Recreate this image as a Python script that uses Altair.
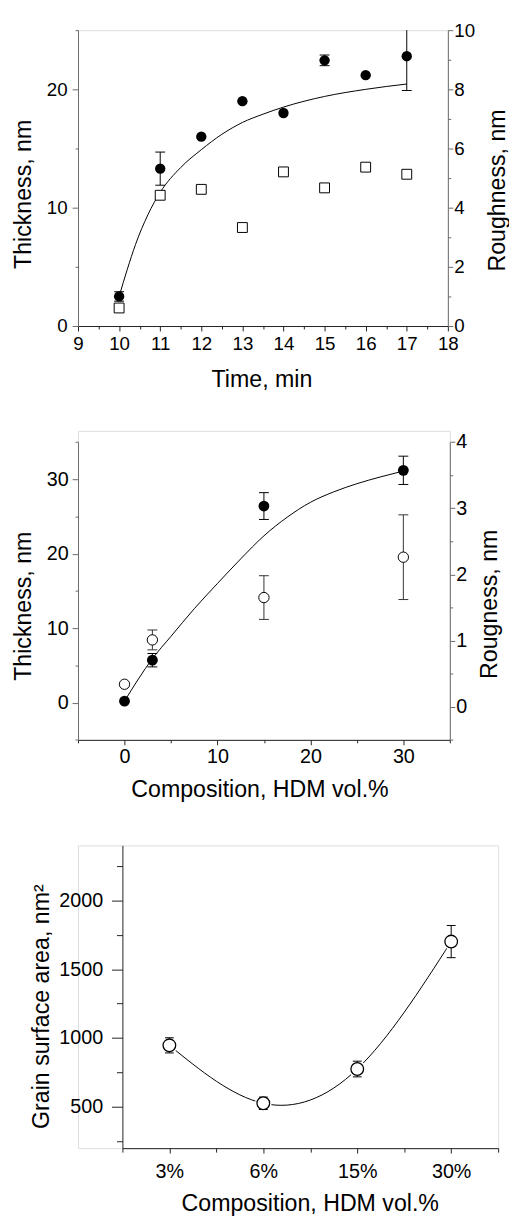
import altair as alt
import pandas as pd

FONT = "Liberation Sans"
TICK_FS = 19
TITLE_FS = 23.5

# ---------------- Panel 1 data ----------------
time_min = [10, 11, 12, 13, 14, 15, 16, 17]
thickness_1 = [2.5, 13.3, 16.0, 19.0, 18.0, 22.45, 21.2, 22.8]
thickness_1_err = [0.4, 1.4, 0.0, 0.0, 0.0, 0.45, 0.0, 2.9]
roughness_1 = [0.61, 4.42, 4.62, 3.33, 5.21, 4.67, 5.37, 5.13]
fit1_t = [10, 10.2, 10.4, 10.7, 11, 11.5, 12, 12.5, 13, 13.5, 14, 15, 16, 17]
fit1_y = [2.5, 4.8, 6.9, 9.4, 11.3, 13.4, 14.9, 16.2, 17.2, 17.9, 18.5, 19.4, 20.0, 20.45]

# ---------------- Panel 2 data ----------------
comp_2 = [0, 3, 15, 30]
thickness_2 = [0.2, 5.7, 26.4, 31.2]
thickness_2_err = [0.0, 0.9, 1.8, 1.9]
roughness_2 = [0.34, 1.01, 1.65, 2.26]
roughness_2_err = [0.0, 0.15, 0.33, 0.64]
fit2_x = [0, 3, 5, 7.5, 10, 12.5, 15, 17.5, 20, 22.5, 25, 27.5, 30]
fit2_y = [0.2, 5.9, 8.9, 12.6, 16.0, 19.3, 22.4, 24.9, 26.9, 28.3, 29.4, 30.3, 31.1]

# ---------------- Panel 3 data ----------------
categories_3 = ["3%", "6%", "15%", "30%"]
grain_area = [947, 526, 775, 1701]
grain_area_err = [55, 45, 57, 117]

# ticks
p1_x_ticks = [9 + 0.5 * i for i in range(19)]
p1_yl_ticks = [0, 5, 10, 15, 20, 25]
p1_yr_ticks = list(range(0, 11))
p2_x_ticks = [-5, 0, 5, 10, 15, 20, 25, 30, 35]
p2_yl_ticks = [-5, 0, 5, 10, 15, 20, 25, 30, 35]
p2_yr_ticks = [-0.5, 0, 0.5, 1, 1.5, 2, 2.5, 3, 3.5, 4]
p3_x_ticks = [-0.5, 0, 0.5, 1, 1.5, 2, 2.5, 3, 3.5]
p3_y_ticks = [250, 500, 750, 1000, 1250, 1500, 1750, 2000, 2250]

DARK = "#222222"
GREY = "#6a6a6a"


def make_axis(values, test, major, minor, title, orient, label_expr=None,
              fs=TICK_FS, label_padding=4, domain_color=DARK, **kw):
    if label_expr is None:
        label_expr = f"({test}) ? format(datum.value, 'd') : ''"
    return alt.Axis(
        values=values,
        labelExpr=label_expr,
        tickSize={"condition": {"test": test, "value": major}, "value": minor},
        title=title,
        orient=orient,
        grid=False,
        labelFont=FONT,
        labelFontSize=fs,
        labelColor="black",
        labelPadding=label_padding,
        labelFlush=False,
        labelOverlap=False,
        titleFont=FONT,
        titleFontSize=TITLE_FS,
        titleFontWeight="normal",
        titleColor="black",
        titleAlign="center",
        titleBaseline="alphabetic",
        domainColor=domain_color,
        domainWidth=1,
        tickColor=domain_color,
        tickWidth=1,
        **kw,
    )


# =============== Panel 1 ===============
W1, H1 = 375, 300
df1 = pd.DataFrame({"t": time_min, "y": thickness_1, "err": thickness_1_err, "r": roughness_1})
dfit1 = pd.DataFrame({"t": fit1_t, "y": fit1_y})

x1 = alt.X("t:Q", scale=alt.Scale(domain=[9, 18], nice=False, zero=False),
           axis=make_axis(p1_x_ticks, "datum.value % 1 == 0", 5, 3, "Time, min", "bottom",
                          label_padding=4, titleX=186, titleY=61.5))
y1_axis = make_axis(p1_yl_ticks, "datum.value % 10 == 0", 6, 3, "Thickness, nm", "left",
                    label_padding=5, domain_color=GREY, titleAngle=270, titleX=-48, titleY=166)
y1_scale = alt.Scale(domain=[0, 25], nice=False, zero=False)

base1 = alt.Chart(df1)
fit_line1 = alt.Chart(dfit1).mark_line(color="black", strokeWidth=1, interpolate="monotone").encode(
    x=x1, y=alt.Y("y:Q", scale=y1_scale, axis=y1_axis))
err1 = base1.transform_filter("datum.err > 0").transform_calculate(
    lo="datum.y - datum.err", hi="min(datum.y + datum.err, 25)")
rule1 = err1.mark_rule(color="black", strokeWidth=1).encode(
    x=x1, y=alt.Y("lo:Q", scale=y1_scale, axis=y1_axis), y2="hi:Q")
caplo1 = err1.mark_tick(color="black", orient="horizontal", size=10, thickness=1, opacity=1).encode(
    x=x1, y=alt.Y("lo:Q", scale=y1_scale, axis=y1_axis))
caphi1 = err1.transform_filter("datum.hi < 25").mark_tick(
    color="black", orient="horizontal", size=10, thickness=1, opacity=1).encode(
    x=x1, y=alt.Y("hi:Q", scale=y1_scale, axis=y1_axis))
pts1 = base1.mark_circle(color="black", size=110, opacity=1).encode(
    x=x1, y=alt.Y("y:Q", scale=y1_scale, axis=y1_axis))
thick1 = alt.layer(fit_line1, rule1, caplo1, caphi1, pts1)

sq1 = base1.mark_point(shape="square", filled=True, fill="white", stroke="black",
                       strokeWidth=1, size=100, opacity=1).encode(
    x=x1,
    y=alt.Y("r:Q", scale=alt.Scale(domain=[0, 10], nice=False, zero=False),
            axis=make_axis(p1_yr_ticks, "datum.value % 2 == 0", 5, 3, "Roughness, nm", "right",
                           label_padding=1, domain_color=GREY, titleAngle=270, titleX=57, titleY=162)))

panel1 = alt.layer(thick1, sq1).resolve_scale(y="independent").properties(width=W1, height=H1)

# =============== Panel 2 ===============
# the group is 11.3 px taller than its plot area, the plot area starts 11.3 px below the group top
W2, H2, OFF2 = 377, 313.3, 11.3
df2 = pd.DataFrame({"c": comp_2, "y": thickness_2, "err": thickness_2_err,
                    "r": roughness_2, "rerr": roughness_2_err})
dfit2 = pd.DataFrame({"c": fit2_x, "y": fit2_y})

x2 = alt.X("c:Q", scale=alt.Scale(domain=[-5, 35], nice=False, zero=False),
           axis=make_axis(p2_x_ticks, "datum.value % 10 == 0", 5, 3, "Composition, HDM vol.%", "bottom",
                          fs=20, label_padding=2, titleX=184, titleY=57))
y2_axis = make_axis(p2_yl_ticks, "datum.value % 10 == 0", 6, 3, "Thickness, nm", "left",
                    fs=20, label_padding=4, domain_color=GREY, titleAngle=270, titleX=-48,
                    titleY=166 + OFF2)
y2_scale = alt.Scale(domain=[-5, 35], nice=False, zero=False, range=[H2, OFF2])
yr2_axis = make_axis(p2_yr_ticks, "datum.value % 1 == 0", 5, 3, "Rougness, nm", "right",
                     fs=20, label_padding=1, domain_color=GREY, titleAngle=270, titleX=47,
                     titleY=164 + OFF2)
yr2_scale = alt.Scale(domain=[-0.5, 4], nice=False, zero=False, range=[H2, OFF2])

base2 = alt.Chart(df2)
fit_line2 = alt.Chart(dfit2).mark_line(color="black", strokeWidth=1, interpolate="monotone").encode(
    x=x2, y=alt.Y("y:Q", scale=y2_scale, axis=y2_axis))
err2 = base2.transform_filter("datum.err > 0").transform_calculate(
    lo="datum.y - datum.err", hi="datum.y + datum.err")
rule2 = err2.mark_rule(color="black", strokeWidth=1).encode(
    x=x2, y=alt.Y("lo:Q", scale=y2_scale, axis=y2_axis), y2="hi:Q")
caplo2 = err2.mark_tick(color="black", orient="horizontal", size=10, thickness=1, opacity=1).encode(
    x=x2, y=alt.Y("lo:Q", scale=y2_scale, axis=y2_axis))
caphi2 = err2.mark_tick(color="black", orient="horizontal", size=10, thickness=1, opacity=1).encode(
    x=x2, y=alt.Y("hi:Q", scale=y2_scale, axis=y2_axis))
pts2 = base2.mark_circle(color="black", size=120, opacity=1).encode(
    x=x2, y=alt.Y("y:Q", scale=y2_scale, axis=y2_axis))
thick2 = alt.layer(fit_line2, rule2, caplo2, caphi2, pts2)

rerr2 = base2.transform_filter("datum.rerr > 0").transform_calculate(
    lo="datum.r - datum.rerr", hi="datum.r + datum.rerr")
rrule2 = rerr2.mark_rule(color="#333333", strokeWidth=1).encode(
    x=x2, y=alt.Y("lo:Q", scale=yr2_scale, axis=yr2_axis), y2="hi:Q")
rcaplo2 = rerr2.mark_tick(color="#333333", orient="horizontal", size=10, thickness=1, opacity=1).encode(
    x=x2, y=alt.Y("lo:Q", scale=yr2_scale, axis=yr2_axis))
rcaphi2 = rerr2.mark_tick(color="#333333", orient="horizontal", size=10, thickness=1, opacity=1).encode(
    x=x2, y=alt.Y("hi:Q", scale=yr2_scale, axis=yr2_axis))
rpts2 = base2.mark_point(shape="circle", filled=True, fill="white", stroke="black",
                         strokeWidth=1, size=110, opacity=1).encode(
    x=x2, y=alt.Y("r:Q", scale=yr2_scale, axis=yr2_axis))
rough2 = alt.layer(rrule2, rcaplo2, rcaphi2, rpts2)

panel2 = alt.layer(thick2, rough2).resolve_scale(y="independent").properties(width=W2, height=H2)

# =============== Panel 3 ===============
# the plot area is shifted 45 px right inside its group
W3, H3, OFF3 = 426, 307, 45
df3 = pd.DataFrame({"i": list(range(len(categories_3))), "a": grain_area, "err": grain_area_err})
cat_js = "[" + ",".join(f"'{c}'" for c in categories_3) + "]"

x3 = alt.X("i:Q", scale=alt.Scale(domain=[-0.5, len(categories_3) - 0.5], nice=False, zero=False,
                                  range=[OFF3, W3]),
           axis=make_axis(p3_x_ticks, "datum.value % 1 == 0", 5, 4, "Composition, HDM vol.%", "bottom",
                          label_expr=f"datum.value % 1 == 0 ? {cat_js}[datum.value] : ''",
                          fs=20, label_padding=9, titleX=190 + OFF3, titleY=63))
y3_axis = make_axis(p3_y_ticks, "datum.value % 500 == 0", 11, 6, "Grain surface area, nm²", "left",
                    fs=20, label_padding=9, titleAngle=270, titleX=-75, titleY=163, offset=-OFF3)
y3_scale = alt.Scale(domain=[200, 2400], nice=False, zero=False)

base3 = alt.Chart(df3)
line3 = base3.mark_line(color="black", strokeWidth=1, interpolate="natural").encode(
    x=x3, y=alt.Y("a:Q", scale=y3_scale, axis=y3_axis))
halo3 = base3.mark_point(shape="circle", filled=True, color="white", size=290, opacity=1).encode(
    x=x3, y=alt.Y("a:Q", scale=y3_scale, axis=y3_axis))
err3 = base3.transform_calculate(lo="datum.a - datum.err", hi="datum.a + datum.err")
rule3 = err3.mark_rule(color="black", strokeWidth=1).encode(
    x=x3, y=alt.Y("lo:Q", scale=y3_scale, axis=y3_axis), y2="hi:Q")
caplo3 = err3.mark_tick(color="black", orient="horizontal", size=9, thickness=1, opacity=1).encode(
    x=x3, y=alt.Y("lo:Q", scale=y3_scale, axis=y3_axis))
caphi3 = err3.mark_tick(color="black", orient="horizontal", size=9, thickness=1, opacity=1).encode(
    x=x3, y=alt.Y("hi:Q", scale=y3_scale, axis=y3_axis))
pts3 = base3.mark_point(shape="circle", filled=True, fill="white", stroke="black",
                        strokeWidth=1.3, size=165, opacity=1).encode(
    x=x3, y=alt.Y("a:Q", scale=y3_scale, axis=y3_axis))
panel3 = alt.layer(line3, halo3, rule3, caplo3, caphi3, pts3).properties(width=W3, height=H3)

chart = alt.vconcat(panel1, panel2, panel3, spacing=106.3, bounds="flush").properties(
    padding={"left": 3, "top": 4, "right": 0, "bottom": -2}
).configure_view(stroke="transparent").configure(background="white")

chart.save("out.html", embed_options={"renderer": "svg", "actions": False})
